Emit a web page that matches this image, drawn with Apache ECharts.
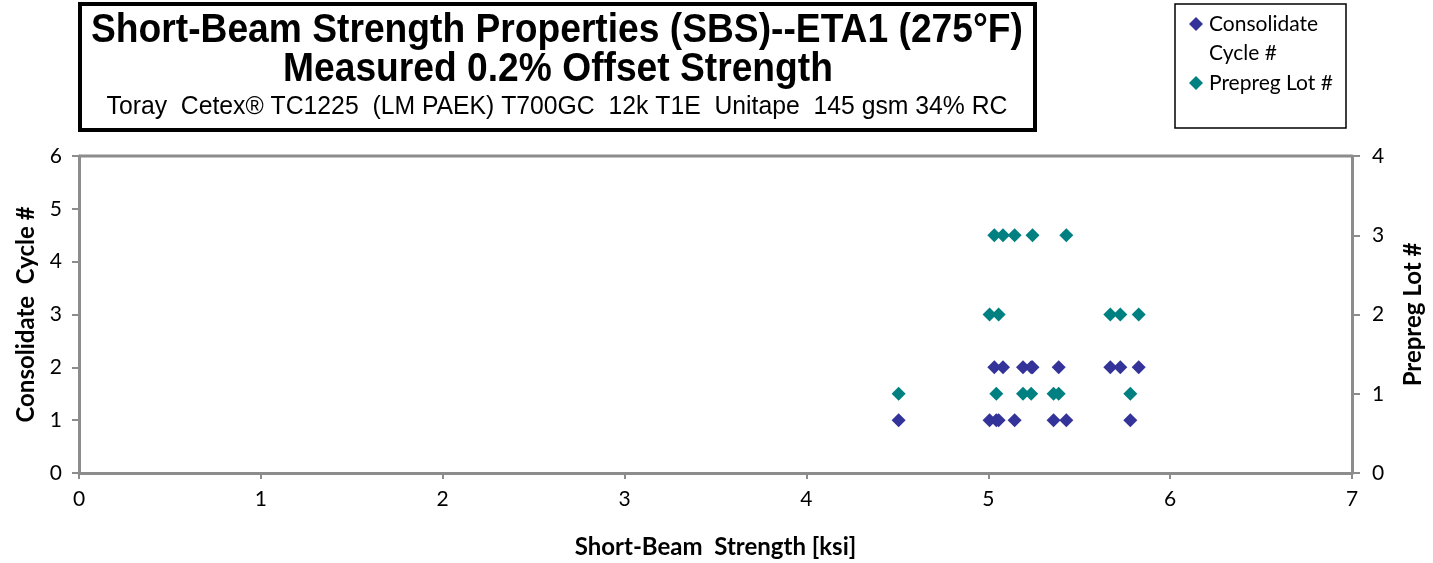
<!DOCTYPE html>
<html>
<head>
<meta charset="utf-8">
<script src="https://cdn.jsdelivr.net/npm/echarts@6/dist/echarts.min.js"></script>
<style>
  html, body { margin: 0; padding: 0; background: #fff; }
  #chart { width: 1433px; height: 563px; }
</style>
</head>
<body>
<div id="chart"></div>
<script>
// short-beam strength of each specimen [ksi]
var strength = [4.507, 5.007, 5.033, 5.044, 5.057, 5.081, 5.145, 5.191, 5.236,
                5.243, 5.359, 5.387, 5.429, 5.671, 5.726, 5.781, 5.827];
// consolidate cycle of each specimen
var cycle = [1, 1, 2, 1, 1, 2, 1, 2, 2, 2, 1, 2, 1, 2, 2, 1, 2];
// prepreg lot of each specimen
var lot = [1, 2, 3, 1, 2, 3, 3, 1, 1, 3, 1, 1, 3, 2, 2, 1, 2];

var xTicks = [0, 7, 1];
var leftTicks = [0, 6, 1];
var rightTicks = [0, 4, 1];

var titleLines = [
    'Short-Beam Strength Properties (SBS)--ETA1 (275°F)',
    'Measured 0.2% Offset Strength',
    'Toray  Cetex® TC1225  (LM PAEK) T700GC  12k T1E  Unitape  145 gsm 34% RC'
];

var axisGray = '#8c8c8c';
var blue = '#333399';
var teal = '#008080';
var labelFont = 'Lato, "Open Sans", sans-serif';
var titleFont = '"Liberation Sans", Arial, sans-serif';

var cycleData = strength.map(function (s, i) { return [s, cycle[i]]; });
var lotData = strength.map(function (s, i) { return [s, lot[i]]; });

var chart = echarts.init(document.getElementById('chart'));

var tickLabel = { fontFamily: labelFont, fontSize: 21, color: '#000' };
var nameStyle = { fontFamily: labelFont, fontSize: 24, fontWeight: 'bold', color: '#000' };

// small diamond used in the legend box
function legendMark(x, y, color) {
    return {
        type: 'polygon', z: 10,
        shape: { points: [[x, y - 7], [x + 7, y], [x, y + 7], [x - 7, y]] },
        style: { fill: color }
    };
}

function legendText(x, y, txt) {
    return {
        type: 'text', x: x, y: y, z: 10,
        style: { text: txt, fill: '#000', font: '21px ' + labelFont, textVerticalAlign: 'middle' }
    };
}

var option = {
    animation: false,
    grid: { left: 79, right: 81, top: 156, bottom: 90, outerBoundsMode: 'none', containLabel: false },
    graphic: [
        // title box
        {
            type: 'rect', z: 10,
            shape: { x: 80, y: 4, width: 955, height: 126 },
            style: { fill: 'none', stroke: '#000', lineWidth: 4 }
        },
        {
            type: 'text', x: 557, y: 31, scaleX: 0.93, z: 10,
            style: { text: titleLines[0], fill: '#000', font: 'bold 40px ' + titleFont,
                     textAlign: 'center', textVerticalAlign: 'middle' }
        },
        {
            type: 'text', x: 558, y: 70, scaleX: 0.93, z: 10,
            style: { text: titleLines[1], fill: '#000', font: 'bold 40px ' + titleFont,
                     textAlign: 'center', textVerticalAlign: 'middle' }
        },
        {
            type: 'text', x: 557, y: 107, scaleX: 0.99, z: 10,
            style: { text: titleLines[2], fill: '#000', font: '25px ' + titleFont,
                     textAlign: 'center', textVerticalAlign: 'middle' }
        },
        // legend box
        {
            type: 'rect', z: 10,
            shape: { x: 1175, y: 4, width: 171, height: 124 },
            style: { fill: 'none', stroke: '#000', lineWidth: 1.5 }
        },
        legendMark(1196, 24, blue),
        legendText(1209, 24, 'Consolidate'),
        legendText(1209, 53, 'Cycle #'),
        legendMark(1196, 83, teal),
        legendText(1209, 83, 'Prepreg Lot #'),
        // top edge of plot area
        {
            type: 'line', z: 10,
            shape: { x1: 79, y1: 156, x2: 1352, y2: 156 },
            style: { stroke: axisGray, lineWidth: 3 }
        }
    ],
    xAxis: {
        type: 'value',
        min: xTicks[0], max: xTicks[1], interval: xTicks[2],
        name: 'Short-Beam  Strength [ksi]',
        nameLocation: 'middle', nameGap: 62,
        nameTextStyle: nameStyle,
        axisLine: { lineStyle: { color: axisGray, width: 3 } },
        axisTick: { show: true, inside: false, length: 6, lineStyle: { color: axisGray, width: 2 } },
        axisLabel: Object.assign({ margin: 16 }, tickLabel),
        splitLine: { show: false }
    },
    yAxis: [
        {
            type: 'value', position: 'left',
            min: leftTicks[0], max: leftTicks[1], interval: leftTicks[2],
            name: 'Consolidate  Cycle #',
            nameLocation: 'middle', nameGap: 41, nameRotate: 90,
            nameTextStyle: nameStyle,
            axisLine: { show: true, lineStyle: { color: axisGray, width: 3 } },
            axisTick: { show: true, length: 7, lineStyle: { color: axisGray, width: 2 } },
            axisLabel: Object.assign({ margin: 17 }, tickLabel),
            splitLine: { show: false }
        },
        {
            type: 'value', position: 'right',
            min: rightTicks[0], max: rightTicks[1], interval: rightTicks[2],
            name: 'Prepreg Lot #',
            nameLocation: 'middle', nameGap: 49, nameRotate: 90,
            nameTextStyle: nameStyle,
            axisLine: { show: true, lineStyle: { color: axisGray, width: 3 } },
            axisTick: { show: true, length: 8, lineStyle: { color: axisGray, width: 2 } },
            axisLabel: Object.assign({ margin: 20 }, tickLabel),
            splitLine: { show: false }
        }
    ],
    series: [
        {
            name: 'Consolidate Cycle #', type: 'scatter', yAxisIndex: 0,
            symbol: 'diamond', symbolSize: 14,
            itemStyle: { color: blue, opacity: 1 },
            data: cycleData
        },
        {
            name: 'Prepreg Lot #', type: 'scatter', yAxisIndex: 1,
            symbol: 'diamond', symbolSize: 14,
            itemStyle: { color: teal, opacity: 1 },
            data: lotData
        }
    ]
};

chart.setOption(option);
</script>
</body>
</html>
